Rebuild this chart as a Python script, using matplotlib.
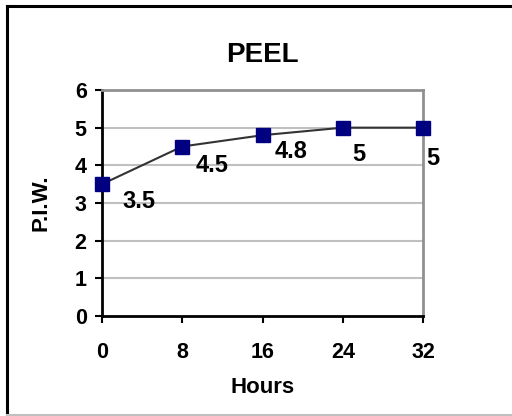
import matplotlib
matplotlib.use("Agg")
import matplotlib.pyplot as plt
from matplotlib.lines import Line2D

plt.rcParams['font.family'] = ['Liberation Sans', 'DejaVu Sans']
plt.rcParams['font.weight'] = 'bold'

hours = [0, 8, 16, 24, 32]
piw = [3.5, 4.5, 4.8, 5, 5]
labels = ["3.5", "4.5", "4.8", "5", "5"]
x_ticks = [0, 8, 16, 24, 32]
y_ticks = [0, 1, 2, 3, 4, 5, 6]

# label offsets in points (dx, dy)
label_offsets = [(14.5, -12.5), (9.5, -13.5), (8.5, -12), (6.5, -19.5), (2.5, -22.5)]

fig = plt.figure(figsize=(5.12, 4.16), dpi=100)
ax = fig.add_axes([102/512, (416-316)/416, (423-102)/512, (316-90)/416])

ax.set_xlim(0, 32)
ax.set_ylim(0, 6)
ax.set_xticks(x_ticks)
ax.set_yticks(y_ticks)

for y in y_ticks[1:-1]:
    ax.axhline(y, color='#c0c0c0', lw=1.5, zorder=1)

ax.plot(hours, piw, color='#333333', lw=1.5, zorder=3, clip_on=False)
ax.plot(hours, piw, ls='none', marker='s', ms=10, color='#000080',
        markeredgecolor='#000080', zorder=4, clip_on=False)

for x, y, t, (dx, dy) in zip(hours, piw, labels, label_offsets):
    ax.annotate(t, (x, y), xytext=(dx, dy), textcoords='offset points',
                ha='left', va='center', fontsize=17, fontweight='bold', color='black')

for s in ['left', 'bottom']:
    ax.spines[s].set_color('black')
    ax.spines[s].set_linewidth(2)
for s in ['top', 'right']:
    ax.spines[s].set_color('#909090')
    ax.spines[s].set_linewidth(2)

ax.tick_params(axis='both', direction='out', length=5, width=1.5, color='black',
               labelsize=15.5)
ax.tick_params(axis='x', pad=14)
ax.tick_params(axis='y', pad=6)
for lab in ax.get_xticklabels() + ax.get_yticklabels():
    lab.set_fontweight('bold')

ax.set_title('PEEL', fontsize=20, fontweight='bold', pad=20)
ax.set_xlabel('Hours', fontsize=16, fontweight='bold', labelpad=9.5)
ax.set_ylabel('P.I.W.', fontsize=16, fontweight='bold', labelpad=17)

# outer border
fig.add_artist(Line2D([7/512, 7/512], [0, 1 - 6/416], transform=fig.transFigure, color='black', lw=2.2))
fig.add_artist(Line2D([7/512, 1], [1 - 6/416, 1 - 6/416], transform=fig.transFigure, color='black', lw=2.2))
fig.add_artist(Line2D([7/512, 1], [1/416, 1/416], transform=fig.transFigure, color='#c0c0c0', lw=1.5))

fig.savefig('out.png', dpi=100)
